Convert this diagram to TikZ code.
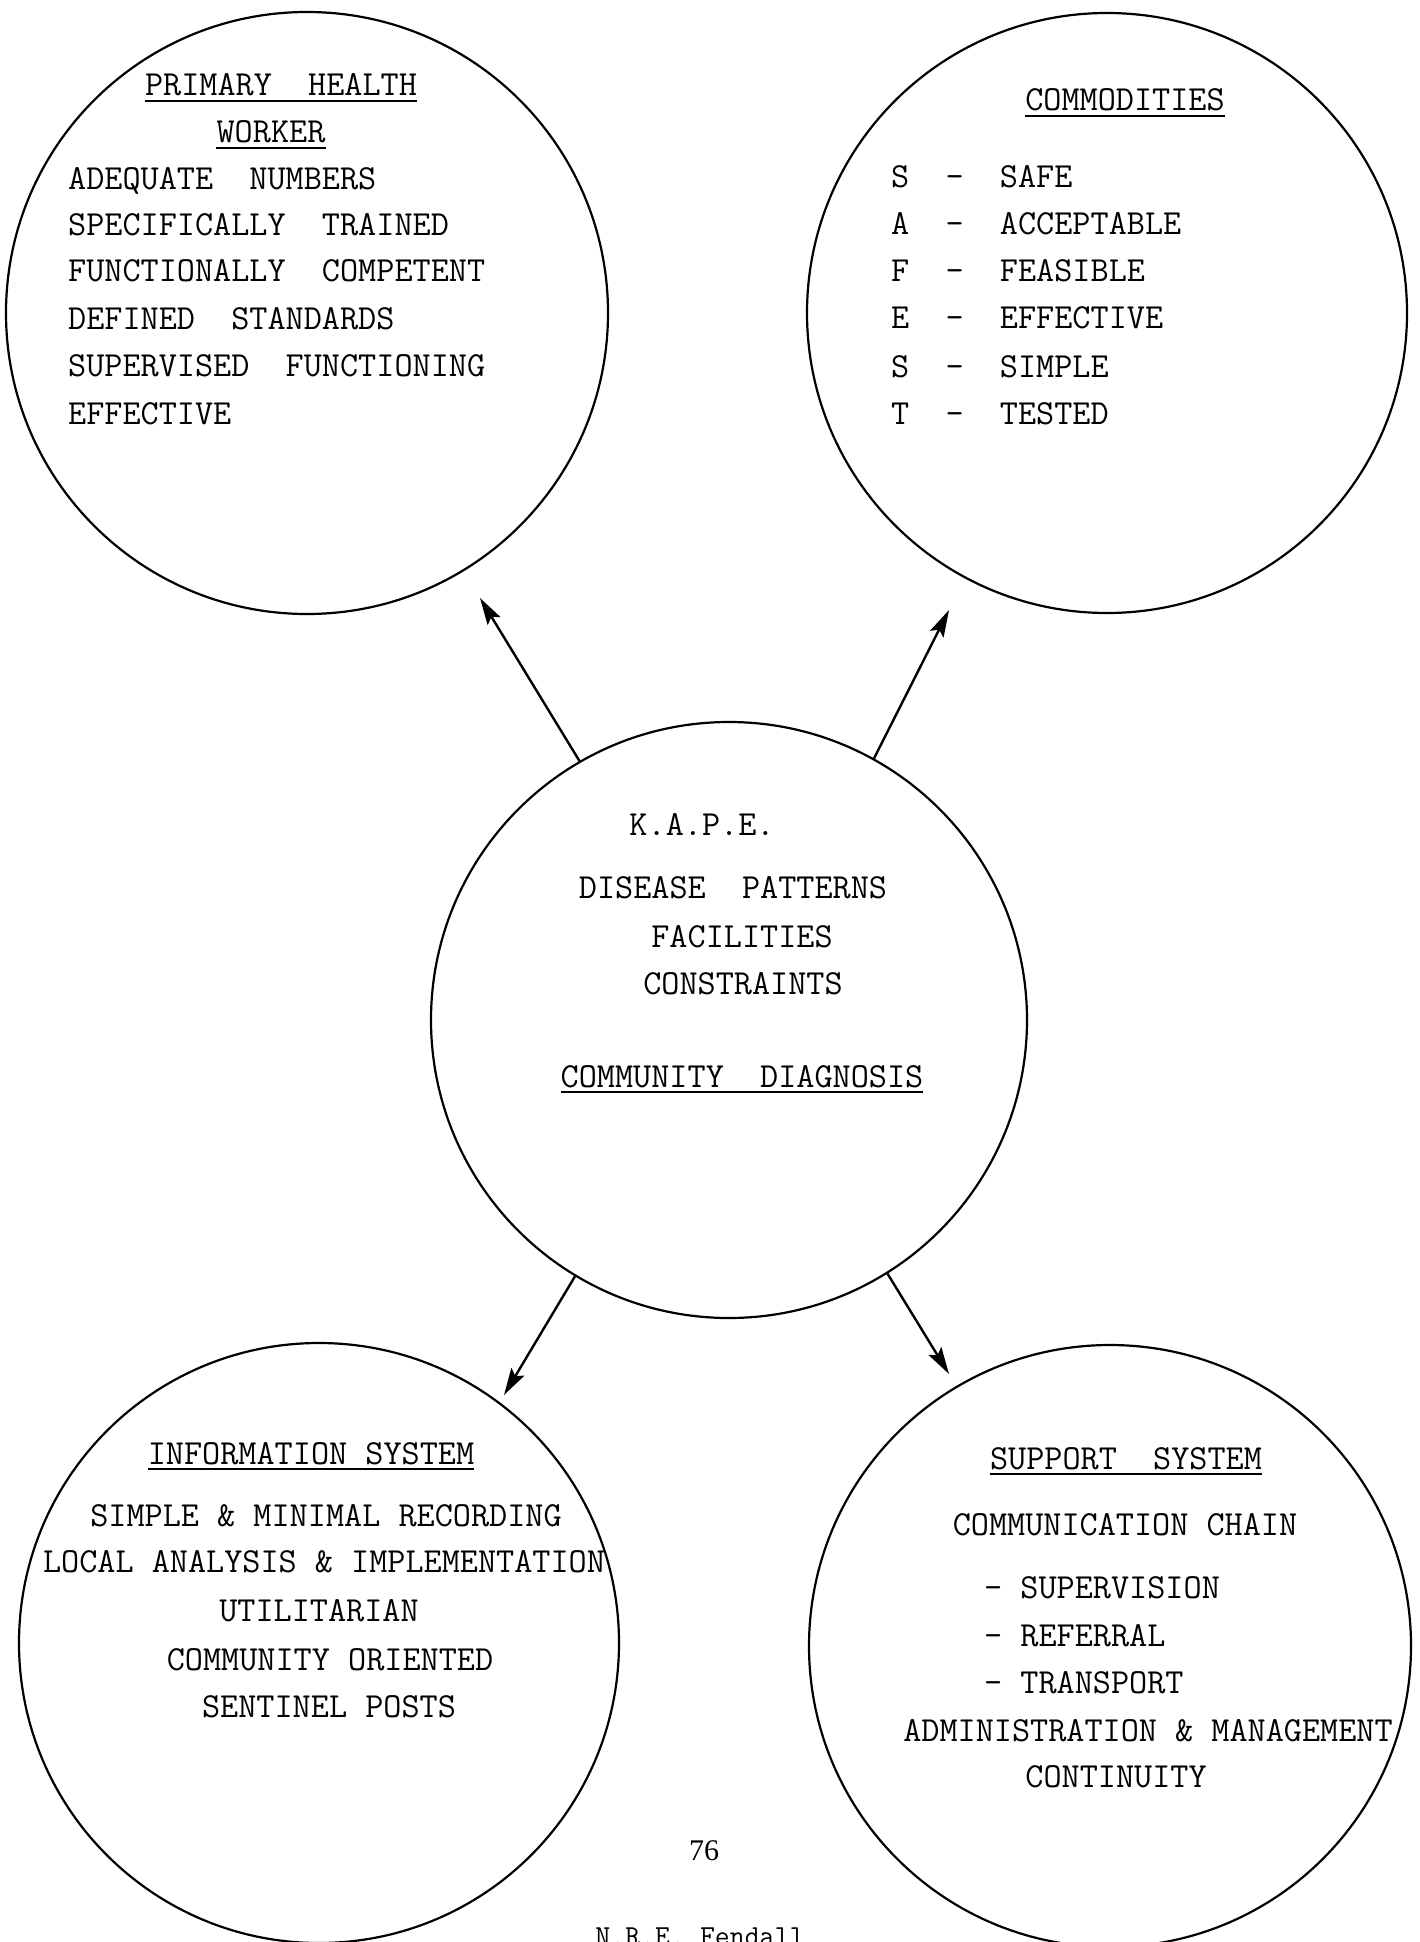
\documentclass[tikz,border=0pt]{standalone}
\usepackage{fontspec}
\newfontfamily\numfont{Liberation Serif}
\usetikzlibrary{arrows.meta}
\tikzset{
  circ/.style={draw, circle, line width=2.2pt, inner sep=0pt},
  tw/.style={inner sep=0pt, font=\fontsize{35.2}{42}\selectfont\ttfamily\addfontfeature{FakeBold=1.3}},
  twsmall/.style={inner sep=0pt, font=\fontsize{29}{34}\selectfont\ttfamily\addfontfeature{FakeBold=1.3}},
  ul/.style={line width=2.4pt},
  arr/.style={line width=2.4pt, -{Stealth[length=27pt,width=15pt,inset=5pt]}},
}
\begin{document}
\begin{tikzpicture}[x=1pt,y=-1pt]
\fill[white] (0,0) rectangle (1419,1942);
\useasboundingbox (0,0) rectangle (1419,1942);

% circles
\node[circ, minimum size=602pt] (hw)  at (307,313)  {};
\node[circ, minimum size=600pt] (com) at (1107,313) {};
\node[circ, minimum size=596pt] (cd)  at (729,1020) {};
\node[circ, minimum size=600pt] (inf) at (319,1643) {};
\node[circ, minimum size=602pt] (sup) at (1110,1646) {};

% primary health worker
\node[tw, anchor=base] (hwt1) at (281,96) {PRIMARY~~HEALTH};
\node[tw, anchor=base] (hwt2) at (271,143) {WORKER};
\draw[ul] ([yshift=-5pt]hwt1.base west) -- ([yshift=-5pt]hwt1.base east);
\draw[ul] ([yshift=-5pt]hwt2.base west) -- ([yshift=-5pt]hwt2.base east);
\node[tw, anchor=base west] (hw1) at (68,190) {ADEQUATE~~NUMBERS};
\node[tw, anchor=base west] (hw2) at (68,236) {SPECIFICALLY~~TRAINED};
\node[tw, anchor=base west] (hw3) at (68,282) {FUNCTIONALLY~~COMPETENT};
\node[tw, anchor=base west] (hw4) at (68,330) {DEFINED~~STANDARDS};
\node[tw, anchor=base west] (hw5) at (68,376) {SUPERVISED~~FUNCTIONING};
\node[tw, anchor=base west] (hw6) at (68,424) {EFFECTIVE};

% commodities
\node[tw, anchor=base] (comt) at (1125,111) {COMMODITIES};
\draw[ul] ([yshift=-5pt]comt.base west) -- ([yshift=-5pt]comt.base east);
\node[tw, anchor=base west] (cm1) at (891,188) {S~~-~~SAFE};
\node[tw, anchor=base west] (cm2) at (891,235) {A~~-~~ACCEPTABLE};
\node[tw, anchor=base west] (cm3) at (891,282) {F~~-~~FEASIBLE};
\node[tw, anchor=base west] (cm4) at (891,329) {E~~-~~EFFECTIVE};
\node[tw, anchor=base west] (cm5) at (891,377) {S~~-~~SIMPLE};
\node[tw, anchor=base west] (cm6) at (891,424) {T~~-~~TESTED};

% community diagnosis
\node[tw, anchor=base] (cd1) at (702,835) {K.A.P.E.};
\node[tw, anchor=base] (cd2) at (733,898) {DISEASE~~PATTERNS};
\node[tw, anchor=base] (cd3) at (742,947) {FACILITIES};
\node[tw, anchor=base] (cd4) at (743,994) {CONSTRAINTS};
\node[tw, anchor=base] (cd5) at (742,1087) {COMMUNITY~~DIAGNOSIS};
\draw[ul] ([yshift=-5pt]cd5.base west) -- ([yshift=-5pt]cd5.base east);

% information system
\node[tw, anchor=base] (inft) at (311,1464) {INFORMATION SYSTEM};
\draw[ul] ([yshift=-5pt]inft.base west) -- ([yshift=-5pt]inft.base east);
\node[tw, anchor=base] (if1) at (326,1526) {SIMPLE \& MINIMAL RECORDING};
\node[tw, anchor=base] (if2) at (324,1572) {LOCAL ANALYSIS \& IMPLEMENTATION};
\node[tw, anchor=base] (if3) at (319,1621) {UTILITARIAN};
\node[tw, anchor=base] (if4) at (330,1670) {COMMUNITY ORIENTED};
\node[tw, anchor=base] (if5) at (329,1717) {SENTINEL POSTS};

% support system
\node[tw, anchor=base] (supt) at (1126,1469) {SUPPORT~~SYSTEM};
\draw[ul] ([yshift=-5pt]supt.base west) -- ([yshift=-5pt]supt.base east);
\node[tw, anchor=base] (sp1) at (1125,1535) {COMMUNICATION CHAIN};
\node[tw, anchor=base west] (sp2) at (984,1598) {- SUPERVISION};
\node[tw, anchor=base west] (sp3) at (984,1646) {- REFERRAL};
\node[tw, anchor=base west] (sp4) at (984,1693) {- TRANSPORT};
\node[tw, anchor=base] (sp5) at (1148,1741) {ADMINISTRATION \& MANAGEMENT};
\node[tw, anchor=base] (sp6) at (1116,1787) {CONTINUITY};

% arrows
\coordinate (thw)  at (480,598);
\coordinate (tcom) at (949,610);
\coordinate (tinf) at (504,1395);
\coordinate (tsup) at (949,1374);
\draw[arr] (cd.120.4) -- (thw);
\draw[arr] (cd.61.4) -- (tcom);
\draw[arr] (cd.239.4) -- (tinf);
\draw[arr] (cd.302) -- (tsup);

% page number and author
\node[inner sep=0pt, anchor=base, font=\fontsize{30}{36}\selectfont\numfont] (pg) at (704,1860) {76};
\node[twsmall, anchor=base] (auth) at (700,1945) {N.R.E. Fendall};
\end{tikzpicture}
\end{document}
